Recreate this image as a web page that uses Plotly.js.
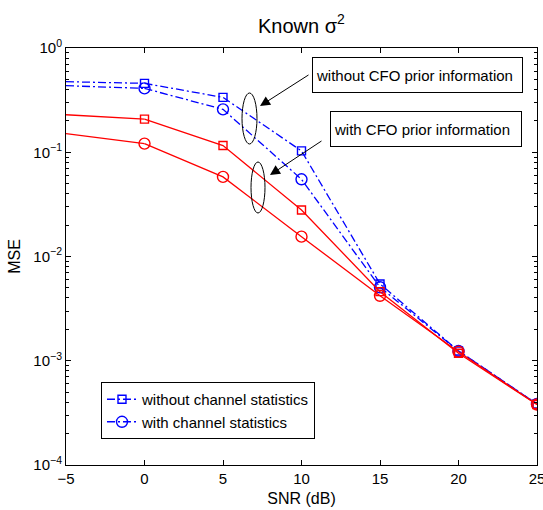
<!DOCTYPE html>
<html>
<head>
<meta charset="utf-8">
<script src="https://cdn.plot.ly/plotly-3.0.1.min.js"></script>
<style>html,body{margin:0;padding:0;background:#fff}#chart{width:543px;height:510px}</style>
</head>
<body>
<div id="chart"></div>
<script>
// SNR (dB)
const snr = [-5, 0, 5, 10, 15, 20, 25];
// MSE values
const blueNoStats = [0.475, 0.458, 0.336, 0.103, 0.00545, 0.00124, 0.000385];   // without CFO prior, without channel statistics
const blueWithStats = [0.435, 0.41, 0.258, 0.055, 0.00507, 0.00124, 0.000385]; // without CFO prior, with channel statistics
const redNoStats = [0.229, 0.208, 0.116, 0.0279, 0.0046, 0.00118, 0.00038];     // with CFO prior, without channel statistics
const redWithStats = [0.151, 0.121, 0.058, 0.0155, 0.0042, 0.00122, 0.00038];   // with CFO prior, with channel statistics
// Legend names and tick labels
const legendNames = ['without channel statistics', 'with channel statistics'];
const yTickVals = [1e-4, 1e-3, 1e-2, 1e-1, 1];
const yTickText = ['10<sup>−4</sup>', '10<sup>−3</sup>', '10<sup>−2</sup>', '10<sup>−1</sup>', '10<sup>0</sup>'];
const annoTexts = ['without CFO prior information', 'with CFO prior information'];

const BLUE = '#0000ff', RED = '#ff0000';
const FONT = 'Liberation Sans, Arial, Helvetica, sans-serif';

function series(y, color, dash, symbol, msize, name, legend) {
  // segment from -5 to 0 drawn without marker (marker at axis edge not shown in original)
  return [
    {x: snr.slice(0, 2), y: y.slice(0, 2), mode: 'lines', showlegend: false, hoverinfo: 'skip',
     line: {color: color, width: 1.3, dash: dash}},
    {x: snr.slice(1), y: y.slice(1), mode: 'lines+markers', name: name, showlegend: legend,
     line: {color: color, width: 1.3, dash: dash},
     marker: {symbol: symbol, size: msize, color: color, line: {color: color, width: 1.4}}}
  ];
}

const data = [].concat(
  series(blueNoStats, BLUE, '8px,3px,2px,3px', 'square-open', 8, legendNames[0], true),
  series(blueWithStats, BLUE, '8px,3px,2px,3px', 'circle-open', 11, legendNames[1], true),
  series(redNoStats, RED, 'solid', 'square-open', 8, 'red square', false),
  series(redWithStats, RED, 'solid', 'circle-open', 11, 'red circle', false)
);

const minorVals = [];
for (let d = -4; d < 0; d++) for (let k = 2; k <= 9; k++) minorVals.push(k * Math.pow(10, d));

const layout = {
  width: 543, height: 510,
  margin: {l: 66, r: 6, t: 48, b: 45},
  paper_bgcolor: '#fff', plot_bgcolor: '#fff',
  font: {family: FONT, size: 15, color: '#000'},
  title: {text: 'Known σ<sup>2</sup>', x: 0.555, xref: 'container', xanchor: 'center',
          y: 0.95, yref: 'container', yanchor: 'middle', font: {size: 20, family: FONT, color: '#000'}},
  xaxis: {
    range: [-5, 25], tickmode: 'linear', tick0: -5, dtick: 5,
    ticks: 'inside', ticklen: 5, tickcolor: '#000', showline: true, linecolor: '#000', linewidth: 1,
    mirror: 'allticks', showgrid: false, zeroline: false, ticklabeloverflow: 'allow',
    tickfont: {size: 15}, title: {text: 'SNR (dB)', font: {size: 16}, standoff: 6}
  },
  yaxis: {
    type: 'log', range: [-4, 0], tickmode: 'array', tickvals: yTickVals, ticktext: yTickText,
    ticks: 'inside', ticklen: 5, tickcolor: '#000', showline: true, linecolor: '#000', linewidth: 1,
    mirror: 'allticks', showgrid: false, zeroline: false, ticklabeloverflow: 'allow',
    minor: {tickmode: 'array', tickvals: minorVals, ticks: 'inside', ticklen: 3, tickcolor: '#000', showgrid: false},
    tickfont: {size: 15}, title: {text: 'MSE', font: {size: 16}, standoff: 8}
  },
  legend: {
    x: 0.0743, y: 0.199, xanchor: 'left', yanchor: 'top',
    bgcolor: '#fff', bordercolor: '#000', borderwidth: 1,
    font: {size: 15, family: FONT}, tracegroupgap: 0
  },
  shapes: [
    {type: 'circle', xref: 'paper', yref: 'paper', x0: 0.3737, x1: 0.4055, y0: 0.7698, y1: 0.8921,
     line: {color: '#000', width: 1}},
    {type: 'circle', xref: 'paper', yref: 'paper', x0: 0.3928, x1: 0.4225, y0: 0.6043, y1: 0.7266,
     line: {color: '#000', width: 1}}
  ],
  annotations: [
    {xref: 'paper', yref: 'paper', x: 0.7463, y: 0.9353, xanchor: 'center', yanchor: 'middle',
     text: annoTexts[0], showarrow: false,
     align: 'left', width: 203, height: 28, borderpad: 3, bordercolor: '#000', borderwidth: 1,
     bgcolor: '#fff', font: {size: 15}},
    {xref: 'paper', yref: 'paper', x: 0.7643, y: 0.8058, xanchor: 'center', yanchor: 'middle',
     text: annoTexts[1], showarrow: false,
     align: 'left', width: 184, height: 28, borderpad: 3, bordercolor: '#000', borderwidth: 1,
     bgcolor: '#fff', font: {size: 15}},
    {xref: 'paper', yref: 'paper', x: 0.4119, y: 0.8609, text: '', showarrow: true,
     ax: 50, ay: -32, arrowhead: 2, arrowsize: 2, arrowwidth: 1, arrowcolor: '#000'},
    {xref: 'paper', yref: 'paper', x: 0.4331, y: 0.6954, text: '', showarrow: true,
     ax: 53, ay: -35, arrowhead: 2, arrowsize: 2, arrowwidth: 1, arrowcolor: '#000'}
  ]
};

Plotly.newPlot('chart', data, layout, {displayModeBar: false, staticPlot: true});
</script>
</body>
</html>
